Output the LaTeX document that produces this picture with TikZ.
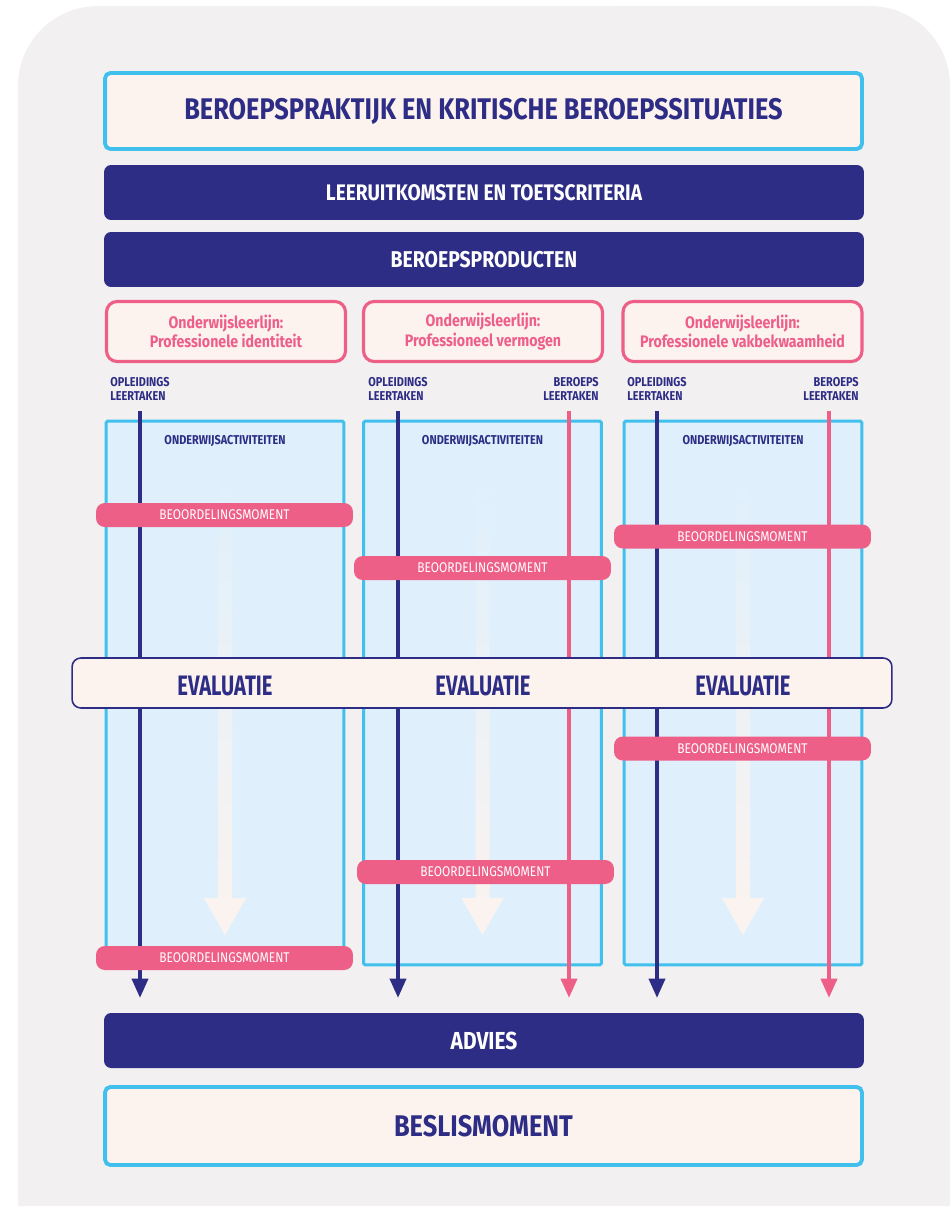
\documentclass[tikz,border=0pt]{standalone}
\usepackage{fontspec}
\newfontfamily\smal{Fira Sans}[FakeStretch=0.72]
\newfontfamily\middel{Fira Sans}[FakeStretch=0.85]
\usetikzlibrary{arrows.meta}
\definecolor{achtergrond}{HTML}{F2F0F1}
\definecolor{room}{HTML}{FCF3EF}
\definecolor{hemels}{HTML}{41C0EE}
\definecolor{paars}{HTML}{2E2D86}
\definecolor{roze}{HTML}{EE5F88}
\definecolor{kolomblauw}{HTML}{DFF0FC}

\begin{document}
\begin{tikzpicture}[x=0.02cm,y=-0.02cm,
  wit/.style={draw=hemels,line width=2.2pt,fill=room,rounded corners=3pt,
    minimum width=15.14cm,text=paars,font=\middel\bfseries\fontsize{17}{19}\selectfont},
  donker/.style={fill=paars,rounded corners=4pt,minimum width=15.2cm,
    minimum height=1.1cm,text=white,font=\middel\bfseries\fontsize{12.8}{14}\selectfont},
  lijn/.style={draw=roze,line width=1.8pt,fill=room,rounded corners=6pt,
    minimum width=4.78cm,minimum height=1.2cm,align=center,text=roze,
    font=\middel\bfseries\fontsize{9.5}{11}\selectfont},
  kolom/.style={draw=hemels,line width=1.7pt,fill=kolomblauw,rounded corners=1pt,
    minimum width=4.76cm,minimum height=10.88cm},
  klein/.style={text=paars,inner sep=0pt,font=\middel\bfseries\fontsize{7.3}{7.5}\selectfont},
  moment/.style={fill=roze,rounded corners=5pt,minimum width=5.14cm,minimum height=0.48cm,
    text=white,inner sep=0pt,font=\middel\fontsize{8}{9}\selectfont},
  pijl/.style={line width=2.3pt,-{Triangle[width=9pt,length=11pt]},shorten <=6pt}]

\useasboundingbox (0,0) rectangle (952,1209);
\fill[achtergrond] (18,1206) -- (18,86) arc[start angle=180,end angle=90,radius=1.6cm]
  -- (870,6) arc[start angle=90,end angle=0,radius=1.6cm] -- (950,1206) -- cycle;

% bovenste blokken
\node[wit,minimum height=1.52cm] (praktijk) at (483.5,111)
  {BEROEPSPRAKTIJK EN KRITISCHE BEROEPSSITUATIES};
\node[donker] (uitkomsten) at (484,192.5) {LEERUITKOMSTEN EN TOETSCRITERIA};
\node[donker,font=\middel\bfseries\fontsize{13}{15}\selectfont] (producten) at (484,259.5) {BEROEPSPRODUCTEN};

% leerlijnen
\def\lijnen{1/226/{Professionele identiteit},2/483/{Professioneel vermogen},3/742.5/{Professionele vakbekwaamheid}}
\foreach \i / \x / \naam in \lijnen
  \node[lijn] (l\i) at (\x,331.5) {Onderwijsleerlijn:\\\naam};

% kolommen met onderwijsactiviteiten
\foreach \i / \x in {1/225,2/482.5,3/743} {
  \node[kolom] (k\i) at (\x,693) {};
  \node[klein] (a\i) at (\x,441) {ONDERWIJSACTIVITEITEN};
  \shade[top color=kolomblauw,bottom color=room]
    (\x-7,480) -- (\x+7,480) -- (\x+7,898) -- (\x+21,898) -- (\x,935)
    -- (\x-21,898) -- (\x-7,898) -- cycle;
}

% leertaken
\foreach \i / \x in {1/140,2/398,3/657} {
  \node[klein,align=left] (o\i) at (\x,389) {OPLEIDINGS\\LEERTAKEN};
  \coordinate (oe\i) at (\x,998);
  \draw[pijl,paars] (o\i.south) -- (oe\i);
}
\foreach \i / \x in {2/571,3/831} {
  \node[klein,align=right] (b\i) at (\x,389) {BEROEPS\\LEERTAKEN};
  \coordinate (be\i) at (\x-2,998);
  \draw[pijl,roze] (b\i.south -| be\i) -- (be\i);
}

% beoordelingsmomenten
\def\momenten{1/224.5/515,2/482.5/568,3/742.5/536.5,4/742.5/748.5,5/485.5/872,6/224.5/958}
\foreach \i / \x / \y in \momenten
  \node[moment] (m\i) at (\x,\y) {BEOORDELINGSMOMENT};

% evaluatie
\node[draw=paars,line width=0.9pt,fill=room,rounded corners=5pt,minimum width=16.4cm,
  minimum height=1cm] (evaluatie) at (482,683) {};
\foreach \i / \x in {1/225,2/483,3/743}
  \node[text=paars,font=\smal\bfseries\fontsize{16}{18}\selectfont] (v\i) at (\x,686) {EVALUATIE};

% onderste blokken
\node[donker,font=\middel\bfseries\fontsize{14}{16}\selectfont] (advies) at (484,1040.5) {ADVIES};
\node[wit,minimum height=1.56cm] (beslis) at (483.5,1126) {BESLISMOMENT};

\end{tikzpicture}
\end{document}
